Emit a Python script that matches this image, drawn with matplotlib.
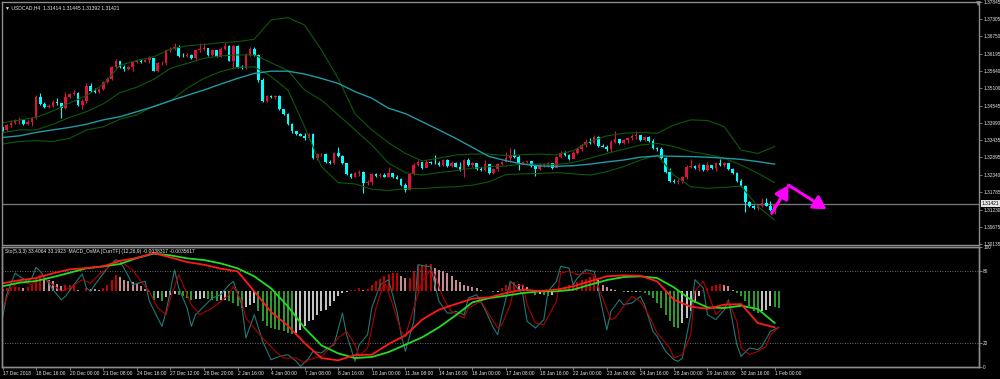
import matplotlib.pyplot as plt
import matplotlib.transforms as mtransforms
import numpy as np

# USDCAD H4 candles. open of a bar = previous close
first_open = 1.3385
closes = [1.3377, 1.3393, 1.3398, 1.3407, 1.3409, 1.3395, 1.3402, 1.3414, 1.3483, 1.3460,
          1.3451, 1.3454, 1.3467, 1.3462, 1.3446, 1.3483, 1.3491, 1.3496, 1.3456, 1.3470,
          1.3517, 1.3502, 1.3499, 1.3506, 1.3529, 1.3538, 1.3576, 1.3598, 1.3578, 1.3570,
          1.3576, 1.3594, 1.3598, 1.3594, 1.3600, 1.3605, 1.3566, 1.3589, 1.3590, 1.3630,
          1.3634, 1.3642, 1.3613, 1.3612, 1.3617, 1.3605, 1.3630, 1.3635, 1.3637, 1.3616,
          1.3630, 1.3610, 1.3635, 1.3644, 1.3598, 1.3644, 1.3578, 1.3574, 1.3616, 1.3636,
          1.3617, 1.3536, 1.3470, 1.3485, 1.3483, 1.3485, 1.3443, 1.3428, 1.3396, 1.3372,
          1.3364, 1.3358, 1.3350, 1.3364, 1.3287, 1.3299, 1.3300, 1.3276, 1.3271, 1.3302,
          1.3294, 1.3271, 1.3237, 1.3228, 1.3239, 1.3244, 1.3207, 1.3212, 1.3237, 1.3230,
          1.3234, 1.3228, 1.3239, 1.3226, 1.3222, 1.3202, 1.3186, 1.3237, 1.3265, 1.3274,
          1.3255, 1.3276, 1.3271, 1.3270, 1.3265, 1.3281, 1.3262, 1.3273, 1.3260, 1.3249,
          1.3281, 1.3265, 1.3271, 1.3252, 1.3249, 1.3269, 1.3239, 1.3252, 1.3267, 1.3276,
          1.3287, 1.3297, 1.3292, 1.3271, 1.3276, 1.3277, 1.3262, 1.3252, 1.3265, 1.3267,
          1.3271, 1.3255, 1.3290, 1.3304, 1.3297, 1.3283, 1.3304, 1.3315, 1.3329, 1.3340,
          1.3334, 1.3353, 1.3326, 1.3324, 1.3315, 1.3340, 1.3347, 1.3334, 1.3345, 1.3350,
          1.3358, 1.3361, 1.3345, 1.3353, 1.3343, 1.3318, 1.3315, 1.3287, 1.3244, 1.3215,
          1.3212, 1.3214, 1.3226, 1.3260, 1.3263, 1.3255, 1.3265, 1.3249, 1.3265, 1.3255,
          1.3271, 1.3265, 1.3271, 1.3252, 1.3241, 1.3215, 1.3198, 1.3148, 1.3135, 1.3127,
          1.3135, 1.3143, 1.3135, 1.3122, 1.3142]
highs = [1.3387, 1.3396, 1.3409, 1.3413, 1.3417, 1.3409, 1.3407, 1.3417, 1.3487, 1.3496,
         1.3467, 1.3460, 1.3472, 1.3480, 1.3464, 1.3499, 1.3496, 1.3504, 1.3499, 1.3474,
         1.3528, 1.3528, 1.3509, 1.3510, 1.3534, 1.3547, 1.3581, 1.3602, 1.3598, 1.3584,
         1.3581, 1.3598, 1.3602, 1.3604, 1.3604, 1.3612, 1.3606, 1.3593, 1.3595, 1.3634,
         1.3640, 1.3655, 1.3648, 1.3621, 1.3621, 1.3619, 1.3634, 1.3655, 1.3655, 1.3637,
         1.3634, 1.3632, 1.3640, 1.3658, 1.3648, 1.3649, 1.3649, 1.3583, 1.3621, 1.3640,
         1.3640, 1.3619, 1.3541, 1.3489, 1.3488, 1.3488, 1.3487, 1.3445, 1.3432, 1.3398,
         1.3375, 1.3366, 1.3366, 1.3368, 1.3366, 1.3302, 1.3304, 1.3302, 1.3281, 1.3308,
         1.3324, 1.3297, 1.3273, 1.3239, 1.3243, 1.3249, 1.3247, 1.3217, 1.3241, 1.3239,
         1.3241, 1.3239, 1.3260, 1.3239, 1.3232, 1.3224, 1.3207, 1.3239, 1.3271, 1.3281,
         1.3276, 1.3281, 1.3279, 1.3297, 1.3278, 1.3285, 1.3283, 1.3278, 1.3276, 1.3276,
         1.3285, 1.3287, 1.3275, 1.3273, 1.3260, 1.3281, 1.3267, 1.3257, 1.3271, 1.3279,
         1.3308, 1.3318, 1.3315, 1.3297, 1.3278, 1.3279, 1.3279, 1.3265, 1.3271, 1.3273,
         1.3276, 1.3273, 1.3294, 1.3311, 1.3311, 1.3300, 1.3309, 1.3322, 1.3334, 1.3347,
         1.3350, 1.3361, 1.3358, 1.3332, 1.3329, 1.3345, 1.3372, 1.3347, 1.3349, 1.3355,
         1.3364, 1.3372, 1.3361, 1.3358, 1.3358, 1.3347, 1.3324, 1.3322, 1.3290, 1.3255,
         1.3220, 1.3220, 1.3230, 1.3264, 1.3283, 1.3265, 1.3271, 1.3269, 1.3276, 1.3265,
         1.3275, 1.3283, 1.3275, 1.3269, 1.3256, 1.3244, 1.3220, 1.3202, 1.3152, 1.3138,
         1.3141, 1.3159, 1.3159, 1.3152, 1.3144]
lows = [1.3374, 1.3375, 1.3385, 1.3396, 1.3395, 1.3392, 1.3393, 1.3390, 1.3411, 1.3455,
        1.3447, 1.3448, 1.3449, 1.3457, 1.3414, 1.3443, 1.3478, 1.3488, 1.3453, 1.3445,
        1.3464, 1.3498, 1.3496, 1.3496, 1.3504, 1.3526, 1.3536, 1.3573, 1.3575, 1.3566,
        1.3568, 1.3566, 1.3589, 1.3591, 1.3594, 1.3589, 1.3564, 1.3563, 1.3585, 1.3585,
        1.3625, 1.3632, 1.3608, 1.3610, 1.3610, 1.3602, 1.3598, 1.3626, 1.3630, 1.3613,
        1.3613, 1.3608, 1.3608, 1.3630, 1.3595, 1.3570, 1.3574, 1.3570, 1.3570, 1.3613,
        1.3613, 1.3531, 1.3467, 1.3467, 1.3480, 1.3477, 1.3441, 1.3424, 1.3393, 1.3368,
        1.3361, 1.3356, 1.3345, 1.3347, 1.3283, 1.3281, 1.3294, 1.3271, 1.3267, 1.3269,
        1.3292, 1.3267, 1.3233, 1.3225, 1.3226, 1.3230, 1.3177, 1.3201, 1.3201, 1.3228,
        1.3228, 1.3226, 1.3226, 1.3224, 1.3220, 1.3198, 1.3180, 1.3184, 1.3234, 1.3263,
        1.3252, 1.3258, 1.3269, 1.3267, 1.3262, 1.3263, 1.3260, 1.3260, 1.3258, 1.3246,
        1.3226, 1.3262, 1.3260, 1.3249, 1.3245, 1.3247, 1.3237, 1.3237, 1.3247, 1.3265,
        1.3274, 1.3276, 1.3289, 1.3249, 1.3269, 1.3273, 1.3260, 1.3230, 1.3249, 1.3258,
        1.3260, 1.3252, 1.3258, 1.3287, 1.3294, 1.3281, 1.3287, 1.3300, 1.3311, 1.3322,
        1.3331, 1.3332, 1.3324, 1.3322, 1.3311, 1.3308, 1.3334, 1.3331, 1.3331, 1.3334,
        1.3345, 1.3347, 1.3343, 1.3341, 1.3340, 1.3315, 1.3311, 1.3283, 1.3241, 1.3212,
        1.3209, 1.3205, 1.3209, 1.3221, 1.3255, 1.3252, 1.3247, 1.3247, 1.3247, 1.3252,
        1.3245, 1.3262, 1.3260, 1.3249, 1.3238, 1.3212, 1.3194, 1.3117, 1.3130, 1.3124,
        1.3122, 1.3130, 1.3133, 1.3119, 1.3110]
last_bar = (1.31414, 1.31445, 1.31392, 1.31421)  # current bar O H L C

# main window indicators, read every 4 bars
line_bars = list(range(0, 185, 4))
ma_slow = [1.3353, 1.3358, 1.3369, 1.3377, 1.3385, 1.3395, 1.3409, 1.3419, 1.3435, 1.3451,
           1.3470, 1.3487, 1.3504, 1.3523, 1.3541, 1.3557, 1.3564, 1.3564, 1.3555, 1.3541,
           1.3525, 1.3499, 1.3478, 1.3446, 1.3429, 1.3403, 1.3377, 1.3350, 1.3321, 1.3292,
           1.3279, 1.3268, 1.3262, 1.3261, 1.3263, 1.3268, 1.3275, 1.3281, 1.3290, 1.3294,
           1.3293, 1.3292, 1.3290, 1.3287, 1.3283, 1.3276, 1.3268]
bb_upper = [1.3400, 1.3408, 1.3417, 1.3437, 1.3463, 1.3486, 1.3522, 1.3583, 1.3598, 1.3610,
            1.3634, 1.3645, 1.3649, 1.3655, 1.3658, 1.3666, 1.3727, 1.3735, 1.3711, 1.3632,
            1.3541, 1.3428, 1.3377, 1.3336, 1.3302, 1.3278, 1.3287, 1.3297, 1.3300, 1.3300,
            1.3295, 1.3298, 1.3300, 1.3297, 1.3311, 1.3340, 1.3358, 1.3366, 1.3369, 1.3366,
            1.3393, 1.3409, 1.3407, 1.3387, 1.3313, 1.3302, 1.3324]
bb_mid = [1.3368, 1.3377, 1.3377, 1.3395, 1.3417, 1.3435, 1.3460, 1.3496, 1.3513, 1.3538,
          1.3573, 1.3589, 1.3605, 1.3613, 1.3616, 1.3616, 1.3591, 1.3566, 1.3504, 1.3472,
          1.3425, 1.3377, 1.3329, 1.3271, 1.3241, 1.3233, 1.3241, 1.3247, 1.3255, 1.3260,
          1.3262, 1.3268, 1.3268, 1.3267, 1.3273, 1.3287, 1.3302, 1.3315, 1.3329, 1.3334,
          1.3324, 1.3308, 1.3299, 1.3287, 1.3265, 1.3239, 1.3209]
bb_lower = [1.3332, 1.3340, 1.3343, 1.3340, 1.3350, 1.3377, 1.3387, 1.3411, 1.3425, 1.3453,
            1.3469, 1.3510, 1.3541, 1.3563, 1.3576, 1.3578, 1.3547, 1.3504, 1.3387, 1.3260,
            1.3209, 1.3205, 1.3188, 1.3184, 1.3190, 1.3190, 1.3194, 1.3196, 1.3201, 1.3212,
            1.3235, 1.3237, 1.3238, 1.3241, 1.3237, 1.3233, 1.3244, 1.3260, 1.3281, 1.3297,
            1.3233, 1.3196, 1.3191, 1.3194, 1.3198, 1.3133, 1.3090]

# sub window: MACD lines (scaled 0-100 like the window), every 4 bars
macd_main = [70.0, 72.5, 74.4, 78.3, 81.6, 82.7, 84.1, 88.8, 91.1, 95.2, 91.6, 87.7,
             85.5, 82.2, 80.0, 63.3, 46.1, 34.7, 20.2, 7.7, 5.8, 10.2, 10.5, 19.4,
             26.6, 39.7, 48.0, 52.7, 57.2, 58.3, 61.9, 64.7, 63.6, 64.7, 67.5, 71.6,
             75.8, 76.6, 76.3, 71.6, 56.3, 50.5, 48.8, 52.2, 52.7, 36.9, 33.3]
macd_signal = [67.5, 70.5, 71.9, 75.2, 78.8, 82.5, 84.1, 86.1, 91.1, 94.7, 93.3, 90.8,
               89.4, 86.6, 82.5, 75.8, 65.8, 50.8, 32.7, 18.3, 11.6, 7.7, 8.6, 12.7,
               18.8, 25.0, 33.3, 43.3, 54.1, 57.7, 59.7, 61.9, 63.3, 63.3, 64.7, 68.8,
               72.7, 75.2, 75.8, 74.4, 66.6, 56.3, 49.9, 49.4, 51.3, 48.6, 37.0]

# stochastic (5,3,3), read at its turning points
sto_main_bars = [0, 1, 3, 4, 6, 7, 8, 9, 11, 12, 14, 15, 17, 19, 20, 21, 22, 25, 27, 28,
                 30, 31, 34, 35, 37, 38, 39, 41, 42, 44, 45, 46, 48, 50, 52, 54, 55, 57, 58, 60,
                 61, 62, 64, 66, 68, 70, 71, 73, 74, 76, 77, 79, 81, 82, 84, 85, 87, 88, 90, 92,
                 94, 95, 96, 98, 99, 101, 102, 104, 106, 107, 108, 110, 111, 113, 115, 117, 118, 119, 121, 122,
                 124, 125, 127, 129, 130, 132, 133, 135, 136, 137, 139, 141, 142, 144, 145, 147, 148, 150, 152, 153,
                 155, 156, 158, 160, 161, 162, 164, 165, 167, 168, 170, 172, 173, 175, 176, 178, 180, 181, 183, 185]
sto_main = [41.1, 60.5, 78.6, 75.8, 71.6, 74.4, 83.3, 80.0, 70.2, 64.7, 56.3, 59.1, 68.8, 77.7, 66.1, 63.3, 68.8, 82.7, 89.7, 88.3,
            75.8, 68.8, 71.6, 55.0, 41.1, 34.1, 46.6, 81.3, 66.1, 49.4, 34.1, 43.8, 50.8, 57.7, 60.5, 68.8, 71.6, 52.2, 24.4, 43.8,
            32.7, 21.6, 6.3, 9.1, 10.5, 5.0, 0.8, 7.7, 13.3, 11.9, 14.7, 18.8, 45.2, 27.2, 5.0, 18.8, 27.2, 49.4, 68.8, 73.0,
            46.6, 27.2, 13.3, 38.3, 85.5, 84.1, 84.1, 55.0, 45.2, 45.2, 46.6, 43.8, 57.7, 60.5, 48.0, 32.7, 27.2, 43.8, 71.6, 68.8,
            60.5, 38.3, 32.7, 39.7, 63.3, 71.6, 84.1, 82.7, 68.8, 74.4, 81.3, 80.0, 64.7, 31.3, 46.6, 56.3, 52.2, 53.6, 59.1, 52.2,
            30.0, 25.8, 13.3, 6.3, 5.0, 7.7, 43.8, 73.0, 66.1, 43.8, 39.7, 48.0, 56.3, 18.8, 9.1, 16.1, 14.7, 17.5, 30.0, 33.4064]
sto_sig_bars = [0, 2, 4, 7, 9, 12, 14, 16, 19, 21, 23, 26, 28, 31, 33, 35, 37, 39, 40, 42,
                43, 45, 47, 50, 51, 54, 55, 57, 58, 60, 62, 65, 67, 70, 72, 73, 76, 78, 80, 82,
                84, 85, 87, 89, 91, 93, 95, 96, 98, 100, 102, 103, 105, 107, 110, 111, 114, 116, 118, 119,
                121, 122, 124, 125, 127, 129, 132, 133, 135, 137, 139, 141, 143, 145, 146, 148, 150, 152, 154, 156,
                159, 160, 162, 164, 165, 167, 168, 170, 172, 173, 175, 176, 178, 180, 182, 183, 185]
sto_sig = [49.4, 66.1, 71.6, 68.8, 77.2, 68.8, 63.3, 66.1, 73.0, 70.2, 77.2, 85.5, 88.3, 81.3, 71.6, 63.3, 49.4, 43.8, 57.7, 77.2,
           68.8, 52.2, 43.8, 49.4, 52.2, 60.5, 67.5, 55.0, 41.1, 32.7, 24.4, 13.3, 7.7, 7.7, 3.6, 6.3, 9.1, 16.1, 24.4, 30.0,
           18.8, 9.1, 16.1, 49.4, 71.6, 52.2, 30.0, 25.8, 49.4, 71.6, 81.3, 77.2, 57.7, 46.6, 41.1, 49.4, 55.0, 43.8, 32.7, 35.5,
           52.2, 67.5, 68.8, 52.2, 36.9, 35.5, 55.0, 78.6, 80.0, 77.2, 78.6, 77.2, 57.7, 39.7, 41.1, 50.8, 59.1, 55.0, 43.8, 28.6,
           16.1, 7.7, 10.5, 27.2, 63.3, 71.6, 63.3, 43.8, 50.8, 55.0, 38.3, 16.1, 10.5, 13.3, 17.5, 27.2, 33.1923]

# OsMA histogram, one value per bar, in units of 1e-4
osma_pts = [6.1, 7.7, 9.2, 9.2, 9.2, 7.7, 9.2, 15.3, 30.7, 34.5,
            29.1, 26.1, 23.0, 16.9, 11.5, 13.8, 14.6, 16.9, 3.8, 1.5,
            7.7, 6.1, 4.6, 3.1, 7.7, 13.8, 26.8, 36.8, 32.2, 26.8,
            23.0, 21.5, 16.9, 11.5, 6.1, -1.5, -19.2, -15.3, -23.0, -13.8,
            -9.2, -6.1, -7.7, -11.5, -15.3, -19.2, -18.4, -16.9, -15.3, -16.9,
            -19.2, -21.5, -20.7, -19.2, -23.0, -26.8, -34.5, -38.4, -36.8, -30.7,
            -26.8, -46.0, -69.0, -80.5, -84.4, -85.9, -88.2, -92.0, -95.9, -98.2,
            -95.9, -88.2, -80.5, -69.0, -65.2, -53.7, -46.0, -42.2, -34.5, -23.0,
            -11.5, -3.8, -2.3, 2.3, 3.8, 7.7, 3.8, 6.1, 13.8, 23.0,
            29.1, 34.5, 39.9, 42.2, 42.5, 34.5, 30.7, 31.5, 46.0, 57.5,
            61.4, 62.9, 63.5, 53.7, 49.9, 46.0, 42.2, 34.5, 26.8, 21.5,
            15.3, 11.5, 9.2, 7.7, 3.8, 1.5, 0.4, -2.3, -0.5, 7.7,
            13.8, 19.2, 21.5, 16.9, 13.8, 9.2, 3.8, -7.7, -6.1, -7.7,
            -11.5, -7.7, 1.5, 6.1, 9.2, 13.8, 16.9, 21.5, 26.8, 29.1,
            32.2, 34.5, 26.8, 15.3, 9.2, 6.1, 3.8, 1.5, -1.5, -1.2,
            -1.5, -0.8, -1.5, -3.8, -7.7, -15.3, -26.8, -38.4, -53.7, -69.0,
            -82.8, -84.4, -72.9, -61.4, -46.0, -26.8, -11.5, 3.8, 7.7, 11.5,
            15.3, 16.9, 15.3, 11.5, 3.8, -3.8, -11.5, -23.0, -34.5, -46.0,
            -50.6, -46.0, -42.2, -34.5, -36.0, -38.3]

price_ticks = [1.37845, 1.37305, 1.36750, 1.36195, 1.35640, 1.35100, 1.34545, 1.33990,
               1.33435, 1.32895, 1.32340, 1.31785, 1.31230, 1.30675, 1.30135]
time_labels = ['17 Dec 2018', '18 Dec 16:00', '20 Dec 00:00', '21 Dec 08:00', '24 Dec 16:00',
               '27 Dec 12:00', '28 Dec 20:00', '2 Jan 16:00', '4 Jan 00:00', '7 Jan 08:00',
               '8 Jan 16:00', '10 Jan 00:00', '11 Jan 08:00', '14 Jan 16:00', '16 Jan 00:00',
               '17 Jan 08:00', '18 Jan 16:00', '22 Jan 00:00', '23 Jan 08:00', '24 Jan 16:00',
               '28 Jan 00:00', '29 Jan 08:00', '30 Jan 16:00', '1 Feb 00:00']

# hand-drawn forecast arrows (bar, price)
arrow_bars = [183.3, 187.3, 196.4]
arrow_prices = [1.3111, 1.3201, 1.3124]

plt.rcParams['font.family'] = ['Liberation Sans', 'DejaVu Sans']
fs = 3.6
fs_tick = 3.4
txt = '#e6e6e6'
frame = '#8c8c8c'

o = np.array([first_open] + closes[:-1] + [last_bar[0]])
c = np.array(closes + [last_bar[3]])
h = np.array(highs + [last_bar[1]])
l = np.array(lows + [last_bar[2]])
x = np.arange(len(c))

fig = plt.figure(figsize=(10, 3.79), dpi=100, facecolor='black')
ax = fig.add_axes([0.002, 134 / 379, 0.977, 243 / 379], facecolor='black')
sub = fig.add_axes([0.002, 11.7 / 379, 0.977, 120 / 379])
hist = sub.twinx()
hist.set_facecolor('black')
sub.set_zorder(hist.get_zorder() + 1)
sub.patch.set_visible(False)

xlim = (-0.12, 232.7)

# candles
col = np.where(c >= o, '#dc143c', '#00ffff')
ax.vlines(x, l, h, colors=col, lw=0.8)
body = np.maximum(np.abs(c - o), 0.00005)
ax.bar(x, body, bottom=np.minimum(o, c), width=0.62, color=col, linewidth=0)

ax.plot(line_bars, bb_upper, color='#0b5a0b', lw=0.8)
ax.plot(line_bars, bb_mid, color='#0b5a0b', lw=0.8)
ax.plot(line_bars, bb_lower, color='#0b5a0b', lw=0.8)
ax.plot(line_bars, ma_slow, color='#1e9aa6', lw=1.0)

# bid line and label
ax.axhline(last_bar[3], color='#6f757a', lw=1.0, zorder=0.5)
blend = mtransforms.blended_transform_factory(ax.transAxes, ax.transData)
ax.text(1.003, last_bar[3], '%.5f' % last_bar[3], transform=blend, ha='left', va='center',
        fontsize=fs_tick, color='black', bbox=dict(facecolor='#e4e4e4', edgecolor='none', pad=0.5))

for k in range(2):
    ax.annotate('', xy=(arrow_bars[k + 1], arrow_prices[k + 1]),
                xytext=(arrow_bars[k], arrow_prices[k]),
                arrowprops=dict(arrowstyle='-|>,head_length=0.7,head_width=0.4', color='#ff00ff',
                                lw=2.2, mutation_scale=11, shrinkA=0, shrinkB=0))

ax.set_xlim(*xlim)
ax.set_ylim(1.30103, 1.37845)
ax.set_yticks(price_ticks)
ax.set_yticklabels(['%.5f' % p for p in price_ticks])
ax.yaxis.tick_right()
ax.tick_params(axis='y', length=2, width=0.6, color=frame, labelsize=fs_tick, labelcolor=txt, pad=1.0)
ax.set_xticks([])
ax.text(0.003, 0.985, '\u25bc USDCAD,H4  %.5f %.5f %.5f %.5f' % last_bar, transform=ax.transAxes,
        ha='left', va='top', fontsize=fs, color=txt)
ax.plot([0.999], [0.996], marker='v', ms=2.5, color=frame, transform=ax.transAxes, clip_on=False)

# sub window
osma = np.array(osma_pts) * 1e-4
hcol = []
for i, v in enumerate(osma):
    prev = osma[i - 1] if i > 0 else 0
    if v >= 0:
        hcol.append('#ff0000' if v >= prev else '#ffb6c1')
    else:
        hcol.append('#3cc83c' if v < prev else '#ffffff')
hist.vlines(x, 0, osma, colors=hcol, lw=1.1)
hist.set_ylim(-63.3 * 0.000276, 36.7 * 0.000276)
hist.set_yticks([])
hist.set_xlim(*xlim)

sub.axhline(80, color='#8c8c8c', lw=0.6, ls=(0, (1, 2)))
sub.axhline(20, color='#8c8c8c', lw=0.6, ls=(0, (1, 2)))
sub.plot(sto_main_bars, sto_main, color='#237878', lw=0.8)
sub.plot(sto_sig_bars, sto_sig, color='#b00000', lw=0.8)
sub.plot(line_bars, macd_signal, color='#22dd22', lw=1.3)
sub.plot(line_bars, macd_main, color='#ff1a1a', lw=1.3)

sub.set_xlim(*xlim)
sub.set_ylim(0, 100)
sub.set_yticks([0, 20, 80, 100])
sub.yaxis.tick_right()
sub.tick_params(axis='y', length=2, width=0.6, color=frame, labelsize=fs_tick, labelcolor=txt, pad=1.0)
sub.set_xticks(np.arange(0, len(c), 8)[:len(time_labels)])
sub.set_xticklabels(time_labels)
sub.tick_params(axis='x', length=2, width=0.6, color=frame, labelsize=3.5, labelcolor=txt, pad=1)
for lbl in sub.get_xticklabels():
    lbl.set_ha('left')
sub.text(0.003, 0.985, 'Sto(5,3,3) 33.4064 33.1923  MACD_OsMA [CurrTF] (12,26,9) -0.0038317 -0.0035617',
         transform=sub.transAxes, ha='left', va='top', fontsize=fs, color=txt)

for a in (ax, sub, hist):
    for s in a.spines.values():
        s.set_color(frame)
        s.set_linewidth(1.0)

fig.savefig('out.png', dpi=100, facecolor='black')
